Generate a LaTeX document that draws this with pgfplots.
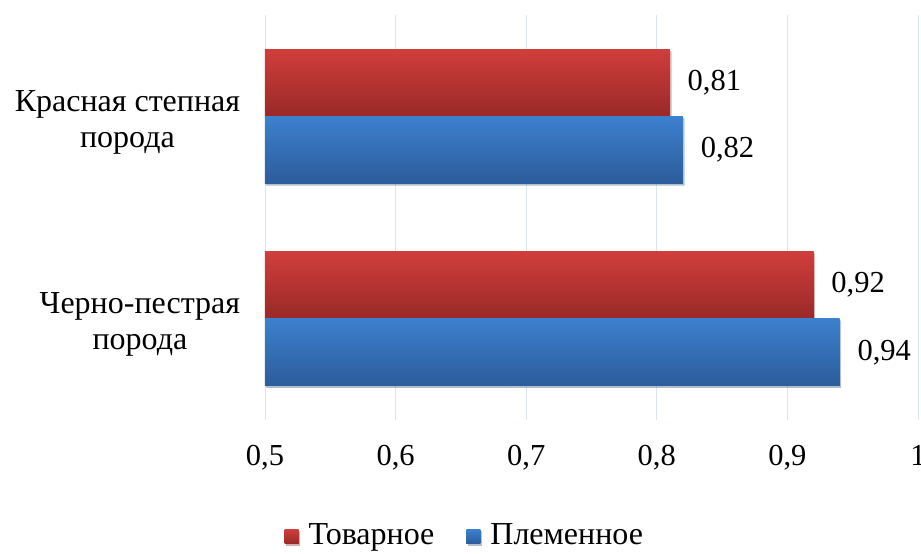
\documentclass[border=0pt]{standalone}
\usepackage{fontspec}
\setmainfont{Liberation Serif}
\usepackage{pgfplots}
\pgfplotsset{compat=1.18}
\usetikzlibrary{shadows}
\definecolor{redtop}{HTML}{D03E3B}
\definecolor{redbot}{HTML}{992927}
\definecolor{bluetop}{HTML}{3C80CE}
\definecolor{bluebot}{HTML}{2C5C9B}
\definecolor{gridblue}{HTML}{DCE6F2}
\pgfplotsset{
  redbar/.style={draw=none, fill=redtop, top color=redtop, bottom color=redbot, bar shift=0.166,
    drop shadow={shadow xshift=1.5pt, shadow yshift=-2pt, opacity=0.25}},
  bluebar/.style={draw=none, fill=bluetop, top color=bluetop, bottom color=bluebot, bar shift=-0.166,
    drop shadow={shadow xshift=1.5pt, shadow yshift=-2pt, opacity=0.25}},
}
\begin{document}
\fontsize{32}{36}\selectfont
\begin{tikzpicture}[font=\fontsize{32}{36}\selectfont]
\begin{axis}[name=ax, scale only axis, width=653pt, height=405pt,
  xbar, xmin=0.5, xmax=1, ymin=-0.5, ymax=1.5,
  xtick={0.5,0.6,0.7,0.8,0.9,1},
  ytick={0,1},
  yticklabels={{Черно-пестрая\\порода},{Красная степная\\порода}},
  yticklabel style={align=center, xshift=-14pt, yshift=-6pt},
  xticklabel style={yshift=-14pt, font=\fontsize{30.5}{34}\selectfont},
  /pgf/number format/use comma,
  /pgf/number format/assume math mode=true,
  axis line style={draw=none}, major tick length=0pt,
  xmajorgrids, grid style={draw=gridblue, line width=0.9pt},
  bar width=0.332,
  nodes near coords={\pgfmathprintnumber[fixed,precision=2,use comma]{\pgfplotspointmeta}},
  nodes near coords style={anchor=west, xshift=7pt, font=\fontsize{30.5}{34}\selectfont, text=black},
  legend style={at={(0.306,-0.288)}, anchor=center, draw=none, legend columns=2,
    font=\fontsize{32}{36}\selectfont,
    /tikz/every even column/.append style={column sep=30pt}},
  legend image code/.code={\fill[#1, drop shadow={opacity=0}] (0pt,-7pt) rectangle (14pt,7pt); \path (22pt,0pt);},
]
\addplot[redbar] coordinates {(0.81,1)};
\addlegendentry{Товарное}
\addplot[bluebar] coordinates {(0.82,1)};
\addlegendentry{Племенное}
\addplot[redbar, forget plot] coordinates {(0.92,0)};
\addplot[bluebar, forget plot] coordinates {(0.94,0)};
\end{axis}
\pgfresetboundingbox
\path[use as bounding box] ([xshift=-265pt,yshift=420pt]ax.south west) rectangle ([xshift=656pt,yshift=-134pt]ax.south west);
\end{tikzpicture}
\end{document}
